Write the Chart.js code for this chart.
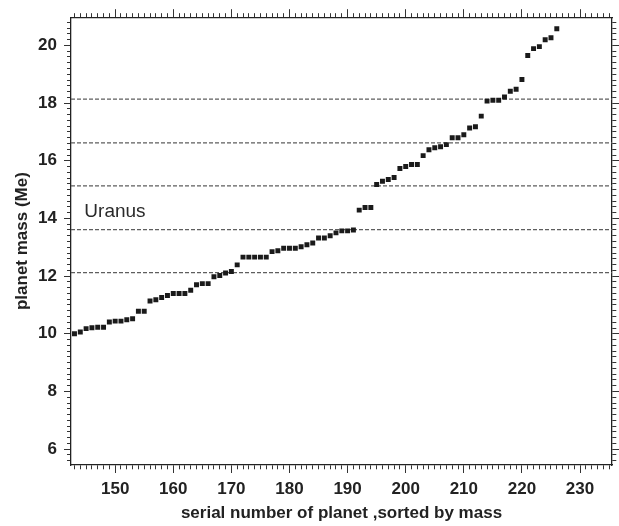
<!DOCTYPE html>
<html>
<head>
<meta charset="utf-8">
<script src="https://cdn.jsdelivr.net/npm/chart.js@4.4.1/dist/chart.umd.min.js"></script>
<style>
body { margin: 0; background: #fff; }
</style>
</head>
<body>
<canvas id="mass-chart" width="619" height="526"></canvas>
<script>
// serial number of planet (sorted by mass) and its mass in Earth masses
var serialNo = [143, 144, 145, 146, 147, 148, 149, 150, 151, 152, 153, 154, 155, 156, 157, 158, 159, 160, 161, 162,
    163, 164, 165, 166, 167, 168, 169, 170, 171, 172, 173, 174, 175, 176, 177, 178, 179, 180, 181, 182,
    183, 184, 185, 186, 187, 188, 189, 190, 191, 192, 193, 194, 195, 196, 197, 198, 199, 200, 201, 202,
    203, 204, 205, 206, 207, 208, 209, 210, 211, 212, 213, 214, 215, 216, 217, 218, 219, 220, 221, 222,
    223, 224, 225, 226];
var planetMass = [10.00, 10.06, 10.18, 10.21, 10.23, 10.23, 10.41, 10.44, 10.44, 10.49, 10.52, 10.78, 10.78, 11.14, 11.18, 11.26, 11.33, 11.40, 11.40, 11.40,
    11.51, 11.70, 11.74, 11.74, 11.98, 12.02, 12.11, 12.16, 12.39, 12.66, 12.66, 12.66, 12.66, 12.66, 12.85, 12.88, 12.97, 12.97, 12.97, 13.02,
    13.09, 13.15, 13.32, 13.32, 13.40, 13.50, 13.57, 13.57, 13.60, 14.29, 14.38, 14.38, 15.18, 15.29, 15.35, 15.42, 15.73, 15.80, 15.87, 15.87,
    16.18, 16.38, 16.45, 16.49, 16.56, 16.80, 16.80, 16.90, 17.14, 17.18, 17.55, 18.07, 18.10, 18.10, 18.21, 18.41, 18.48, 18.82, 19.65, 19.89,
    19.96, 20.20, 20.27, 20.58];
var levelLines = [12.12, 13.61, 15.13, 16.62, 18.14];
var xLabelTicks = [150, 160, 170, 180, 190, 200, 210, 220, 230];
var yLabelTicks = [6, 8, 10, 12, 14, 16, 18, 20];
var noteText = 'Uranus';

var X_MIN = 142.4, X_MAX = 235.5;
var Y_MIN = 5.45, Y_MAX = 20.98;
var NOTE_X = 144.7, NOTE_Y = 14.24;
var FONT = '"Liberation Sans", Arial, sans-serif';

function xTickList(){
    var t = [];
    for (var v = 143; v <= 235; v++) t.push({value: v});
    return t;
}
function yTickList(){
    var t = [];
    for (var k = 28; k <= 104; k++) t.push({value: k / 5});
    return t;
}
function isMajor(isX, v){
    if (isX) return xLabelTicks.indexOf(v) >= 0 || (v % 10 === 0);
    return yLabelTicks.indexOf(Math.round(v * 5) / 5) >= 0;
}

function frameAxis(pos, showLabels, fit){
    var isX = (pos === 'top' || pos === 'bottom');
    var L = isX ? 8 : 7, m = 4;
    var outerFirst = (pos === 'top' || pos === 'left');
    return {
        type: 'linear',
        position: pos,
        bounds: 'data',
        min: isX ? X_MIN : Y_MIN,
        max: isX ? X_MAX : Y_MAX,
        afterBuildTicks: function(s){ s.ticks = isX ? xTickList() : yTickList(); },
        afterFit: function(s){ if (isX) s.height = fit; else s.width = fit; },
        border: {display: true, color: '#222', width: 1.3},
        grid: {
            drawOnChartArea: false,
            drawTicks: true,
            tickLength: L,
            tickColor: '#333',
            tickWidth: 1,
            tickBorderDash: function(ctx){
                if (!ctx.tick || isMajor(isX, ctx.tick.value)) return [];
                return outerFirst ? [0, L - m, m, 50] : [m, 50];
            }
        },
        ticks: {
            display: showLabels,
            autoSkip: false,
            maxRotation: 0,
            padding: isX ? 6 : 7,
            color: '#222',
            font: {family: FONT, size: 17, weight: 'bold'},
            callback: function(value){
                if (isX) return xLabelTicks.indexOf(value) >= 0 ? String(value) : '';
                var r = Math.round(value * 5) / 5;
                return yLabelTicks.indexOf(r) >= 0 ? String(r) : '';
            }
        }
    };
}

var notePlugin = {
    id: 'note',
    afterDatasetsDraw: function(chart){
        var c = chart.ctx;
        c.save();
        c.font = '19px ' + FONT;
        c.fillStyle = '#2a2a2a';
        c.textBaseline = 'middle';
        c.textAlign = 'left';
        c.fillText(noteText, chart.scales.x.getPixelForValue(NOTE_X), chart.scales.y.getPixelForValue(NOTE_Y));
        c.restore();
    }
};

var pts = [];
for (var i = 0; i < serialNo.length; i++) pts.push({x: serialNo[i], y: planetMass[i]});

var dta = [{
    type: 'scatter',
    label: 'planets',
    data: pts,
    pointStyle: 'rect',
    pointRadius: 3.5,
    pointHoverRadius: 3.5,
    backgroundColor: '#1a1a1a',
    borderColor: '#1a1a1a',
    borderWidth: 0,
    order: 1
}];
levelLines.forEach(function(v){
    dta.push({
        type: 'line',
        data: [{x: X_MIN, y: v}, {x: X_MAX, y: v}],
        borderColor: '#5e5e5e',
        borderWidth: 1.2,
        borderDash: [4, 2],
        pointRadius: 0,
        fill: false,
        showLine: true,
        order: 2
    });
});

var x = frameAxis('bottom', true, 61);
x.title = {display: true, text: 'serial number of planet ,sorted by mass', color: '#222',
    font: {family: FONT, size: 17, weight: 'bold'}, padding: {top: 2, bottom: 2}};
var y = frameAxis('left', true, 71);
y.title = {display: true, text: 'planet mass (Me)', color: '#222',
    font: {family: FONT, size: 17, weight: 'bold'}, padding: {top: 12, bottom: 12}};

window.MassChart = new Chart(document.getElementById('mass-chart').getContext('2d'), {
    type: 'scatter',
    data: {datasets: dta},
    options: {
        responsive: false,
        animation: false,
        devicePixelRatio: 1,
        layout: {padding: 0},
        plugins: {
            legend: {display: false},
            tooltip: {enabled: false}
        },
        scales: {
            x: x,
            x2: frameAxis('top', false, 13),
            y: y,
            y2: frameAxis('right', false, 7)
        }
    },
    plugins: [notePlugin]
});
</script>
</body>
</html>
